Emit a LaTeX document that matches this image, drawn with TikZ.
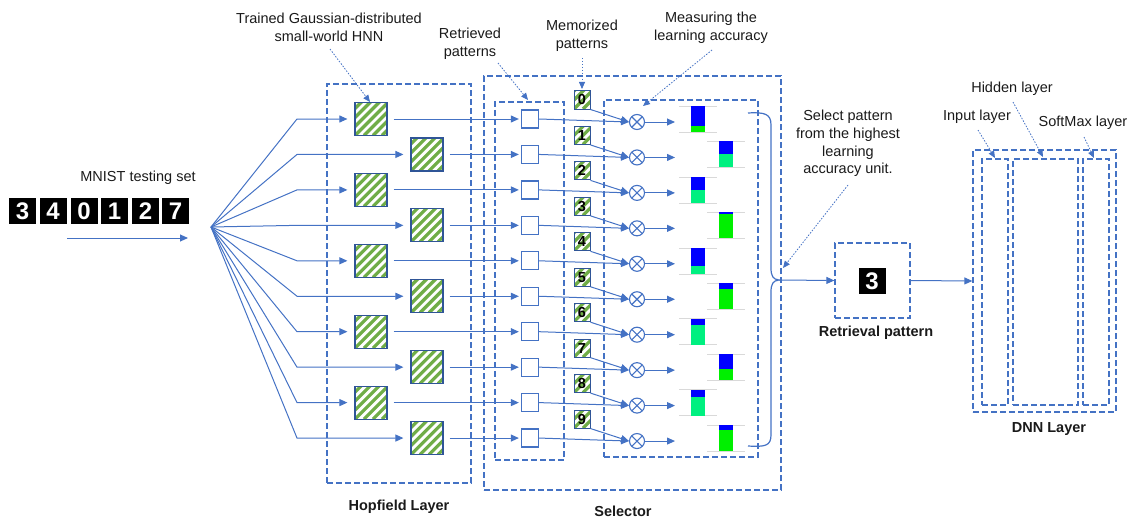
\documentclass[tikz,border=0pt]{standalone}
\usepackage{fontspec}
\setmainfont{Liberation Sans}
\usetikzlibrary{arrows.meta}
\definecolor{lb}{HTML}{4472C4}
\definecolor{hb}{HTML}{2F5597}
\definecolor{hg}{HTML}{70AD47}
\definecolor{barblue}{HTML}{0000FF}
\definecolor{gA}{HTML}{00F000}
\definecolor{gB}{HTML}{00F080}
\definecolor{gl}{HTML}{D9D9D9}
\definecolor{txt}{HTML}{1A1A1A}
\tikzset{
  conn/.style={lb, line width=1pt},
  arr/.style={conn, -{Triangle[length=8pt,width=7pt]}},
  ann/.style={lb, line width=0.8pt, dash pattern=on 1.5pt off 1.5pt, -{Triangle[length=7pt,width=6pt]}},
  dbox/.style={draw=lb, line width=1.3pt, dash pattern=on 6pt off 3pt, inner sep=0pt},
  hatchbox/.style={draw=hb, line width=1.2pt, fill=white, inner sep=0pt, path picture={
      \foreach \i in {-63,-54,...,63} \draw[hg, line width=3.2pt] ([xshift=\i pt]path picture bounding box.south west) -- ++(70pt,70pt);}},
  hopbox/.style={hatchbox, minimum width=32pt, minimum height=33pt},
  membox/.style={hatchbox, line width=1pt, minimum width=16pt, minimum height=18pt, font=\bfseries\fontsize{14.5}{14.5}\selectfont, text=black},
  retbox/.style={draw=lb, line width=1.3pt, fill=white, inner sep=0pt, minimum width=17pt, minimum height=18pt},
  otimes/.style={circle, draw=lb, line width=1.1pt, minimum size=15pt, inner sep=0pt, path picture={
      \draw[lb, line width=1.1pt] (path picture bounding box.north west) -- (path picture bounding box.south east)
            (path picture bounding box.north east) -- (path picture bounding box.south west);}},
  digit/.style={fill=black, text=white, inner sep=0pt, minimum width=27pt, minimum height=26pt, font=\bfseries\fontsize{24}{24}\selectfont},
  lbl/.style={text=txt, align=center, inner sep=0pt},
  blbl/.style={text=txt, align=center, inner sep=0pt, font=\bfseries\fontsize{14.5}{17.8}\selectfont},
}
\begin{document}
\begin{tikzpicture}[x=1pt,y=-1pt, font=\fontsize{14.5}{17.8}\selectfont]
\useasboundingbox (0,0) rectangle (1136,519);

% container boxes
\node[dbox, minimum width=144pt, minimum height=399pt] (hop) at (399,283.5) {};
\node[dbox, minimum width=297pt, minimum height=414pt] (sel) at (632.5,283) {};
\node[dbox, minimum width=69pt, minimum height=358pt] (rbox) at (529.5,281) {};
\node[dbox, minimum width=154pt, minimum height=357pt] (mbox) at (681,278.5) {};
\node[dbox, minimum width=75pt, minimum height=75pt] (ret) at (872.5,280.5) {};
\node[dbox, minimum width=143pt, minimum height=262pt] (dnn) at (1044.5,281) {};
\node[dbox, minimum width=26pt, minimum height=246pt] (inl) at (995,282) {};
\node[dbox, minimum width=65pt, minimum height=246pt] (hid) at (1045.5,282) {};
\node[dbox, minimum width=26pt, minimum height=246pt] (smx) at (1096,282) {};

% MNIST digits
\node[lbl] (mnist) at (138,178) {MNIST testing set};
\node[digit] (d1) at (22.5,211) {3};
\node[digit] (d2) at (53,211) {4};
\node[digit] (d3) at (84,211) {0};
\node[digit] (d4) at (114.5,211) {1};
\node[digit] (d5) at (145.5,211) {2};
\node[digit] (d6) at (175.5,211) {7};
\coordinate (inA) at (67,238);
\coordinate (inB) at (188,238);
\draw[arr] (inA) -- (inB);
\coordinate (fan) at (211,227);

% rows
\foreach \k/\bh/\gc in {0/20/gA,1/13/gB,2/13/gB,3/2/gA,4/18/gB,5/6/gA,6/6/gB,7/15/gA,8/7/gB,9/5/gA} {
  \pgfmathsetmacro\yk{119+35.45*\k}
  \pgfmathsetmacro\hx{371+56*isodd(\k)}
  \pgfmathsetmacro\bx{698+28*isodd(\k)}
  \pgfmathsetmacro\my{\yk-19}
  \pgfmathsetmacro\oy{\yk+3}
  \node[hopbox] (h\k) at (\hx,\yk) {};
  \node[retbox] (r\k) at (530,\yk) {};
  \node[membox] (m\k) at (582,\my) {\k};
  \node[otimes] (o\k) at (637,\oy) {};
  \coordinate (b\k) at (297,\yk);
  \coordinate (t\k) at (675,\oy);
  \draw[arr, shorten >=7pt] (fan) -- (b\k) -- (h\k.west);
  \draw[arr, shorten <=6pt, shorten >=2pt] (h\k.east) -- (r\k.west);
  \draw[arr] (r\k.east) -- (o\k.west);
  \draw[arr] (m\k.south east) -- (o\k.west);
  \draw[arr] (o\k.east) -- (t\k);
  % bar
  \draw[gl, line width=0.6pt] (\bx-19,\yk-13) -- (\bx+19,\yk-13) (\bx-19,\yk+13) -- (\bx+19,\yk+13);
  \fill[\gc] (\bx-7,\yk-13) rectangle (\bx+7,\yk+13);
  \fill[barblue] (\bx-7,\yk-13) rectangle (\bx+7,\yk-13+\bh);
}

% brace
\draw[conn, line width=1.2pt] (748,113) .. controls (765,112) and (771,114) .. (771,125) -- (771,268)
   .. controls (771,276) and (773,279.5) .. (779,280)
   .. controls (773,280.5) and (771,284) .. (771,292) -- (771,435)
   .. controls (771,446) and (765,447) .. (748,446);
\coordinate (bt) at (779,280);
\node[digit] (r3) at (872,281) {3};
\draw[arr] (bt) -- (ret.west);
\draw[arr] (ret.east) -- (dnn.west);

% labels
\node[lbl] (lhnn) at (329,27) {Trained Gaussian-distributed\\small-world HNN};
\node[lbl] (lret) at (470,43.5) {Retrieved\\patterns};
\node[lbl] (lmem) at (582,36) {Memorized\\patterns};
\node[lbl] (lmea) at (711,28) {Measuring the\\learning accuracy};
\node[lbl] (lsel) at (848,143.5) {Select pattern\\from the highest\\learning\\accuracy unit.};
\node[lbl] (lin) at (977,117) {Input layer};
\node[lbl] (lhid) at (1012,89) {Hidden layer};
\node[lbl] (lsmx) at (1083,123) {SoftMax layer};
\node[blbl] (thop) at (399,507) {Hopfield Layer};
\node[blbl] (tsel) at (623,511) {Selector};
\node[blbl] (tret) at (876,333) {Retrieval pattern};
\node[blbl] (tdnn) at (1049,429) {DNN Layer};

% annotation arrows
\coordinate (a1s) at (330,49);  \coordinate (a1e) at (370,102);
\coordinate (a2s) at (498,63);  \coordinate (a2e) at (528,100);
\coordinate (a3s) at (582,58);  \coordinate (a3e) at (582,89);
\coordinate (a4s) at (712,50);  \coordinate (a4e) at (643,106);
\coordinate (a5s) at (848,185); \coordinate (a5e) at (783,268);
\coordinate (a6s) at (978,130); \coordinate (a6e) at (995,158);
\coordinate (a7s) at (1013,102); \coordinate (a7e) at (1043,157);
\coordinate (a8s) at (1084,137); \coordinate (a8e) at (1094,158);
\foreach \a in {1,...,8} \draw[ann] (a\a s) -- (a\a e);
\end{tikzpicture}
\end{document}
